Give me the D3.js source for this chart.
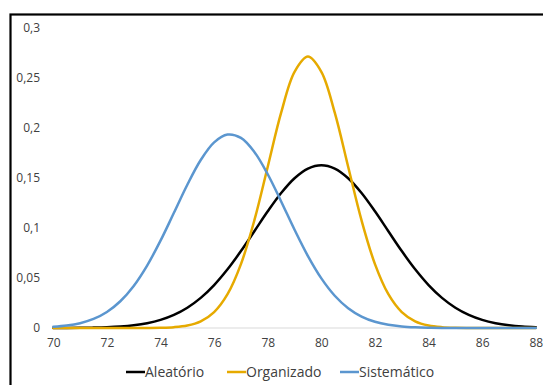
<!DOCTYPE html>
<html>
<head>
<meta charset="utf-8">
<script src="https://cdn.jsdelivr.net/npm/d3@7"></script>
<style>
  html, body { margin: 0; padding: 0; background: #fff; }
  svg { display: block; }
  text { font-family: "Open Sans", "Liberation Sans", sans-serif; fill: #404040; }
</style>
</head>
<body>
<script>
// x values (step 0.5)
const xValues = [70,70.5,71,71.5,72,72.5,73,73.5,74,74.5,75,75.5,76,76.5,77,77.5,78,78.5,79,79.5,80,80.5,81,81.5,82,82.5,83,83.5,84,84.5,85,85.5,86,86.5,87,87.5,88];

const seriesNames = ["Aleatório", "Organizado", "Sistemático"];

const aleatorio = [0.00004,0.00009,0.00019,0.00040,0.00079,0.00150,0.00275,0.00482,0.00811,0.01310,0.02029,0.03013,0.04295,0.05869,0.07692,0.09674,0.11667,0.13498,0.14979,0.15945,0.16280,0.15945,0.14979,0.13498,0.11667,0.09674,0.07692,0.05869,0.04295,0.03013,0.02029,0.01310,0.00811,0.00482,0.00275,0.00150,0.00079];

const organizado = [0,0,0,0,0,0.000003,0.000015,0.000065,0.000248,0.000835,0.002502,0.006695,0.015943,0.03382,0.06389,0.10756,0.16127,0.21533,0.25615,0.27140,0.25615,0.21533,0.16127,0.10756,0.06389,0.03382,0.015943,0.006695,0.002502,0.000835,0.000248,0.000065,0.000015,0.000003,0,0,0];

const sistematico = [0.001143,0.002416,0.004813,0.009038,0.016013,0.02673,0.04207,0.06243,0.08734,0.11521,0.14326,0.16796,0.18566,0.19347,0.19008,0.17607,0.15376,0.12658,0.09826,0.07190,0.04961,0.03227,0.01979,0.011446,0.006237,0.003206,0.001553,0.000709,0.000305,0.000124,0.000048,0.000017,0.000006,0,0,0,0];

const xTicks = [70,72,74,76,78,80,82,84,86,88];
const yTicks = [0,0.05,0.1,0.15,0.2,0.25,0.3];
const yTickLabels = ["0","0,05","0,1","0,15","0,2","0,25","0,3"];
const colors = ["#000000", "#E6AA00", "#5B96CF"];

const W = 543, H = 385;
const svg = d3.select("body").append("svg").attr("width", W).attr("height", H);

// outer frame (extends beyond right/bottom edges)
svg.append("rect")
  .attr("x", 10.5).attr("y", 14.5)
  .attr("width", W + 20).attr("height", H + 20)
  .attr("fill", "none").attr("stroke", "#000").attr("stroke-width", 2.2);

const x = d3.scaleLinear().domain([70, 88]).range([53.3, 535.8]);
const y = d3.scaleLinear().domain([0, 0.3]).range([328, 28]);

// baseline
svg.append("line")
  .attr("x1", x(70)).attr("x2", x(88))
  .attr("y1", y(0)).attr("y2", y(0))
  .attr("stroke", "#d9d9d9").attr("stroke-width", 1);

// x axis labels
const xAxis = d3.axisBottom(x).tickValues(xTicks).tickSize(0).tickPadding(10).tickFormat(d3.format("d"));
const gx = svg.append("g").attr("transform", `translate(0,${y(0)})`).call(xAxis);
gx.select(".domain").remove();
gx.selectAll("text").attr("font-size", 12).attr("font-family", "'Open Sans', sans-serif").attr("fill", "#404040");

// y axis labels
const yAxis = d3.axisLeft(y).tickValues(yTicks).tickSize(0).tickPadding(0)
  .tickFormat((d, i) => yTickLabels[i]);
const gy = svg.append("g").attr("transform", `translate(40,0)`).call(yAxis);
gy.select(".domain").remove();
gy.selectAll("text").attr("font-size", 12).attr("font-family", "'Open Sans', sans-serif").attr("fill", "#404040");

// lines
const allSeries = [aleatorio, organizado, sistematico];
const line = d3.line()
  .x((d, i) => x(xValues[i]))
  .y(d => y(d))
  .curve(d3.curveCatmullRom.alpha(0.5));

// draw order: black, gold, blue
allSeries.forEach((s, k) => {
  svg.append("path")
    .datum(s)
    .attr("d", line)
    .attr("fill", "none")
    .attr("stroke", colors[k])
    .attr("stroke-width", 2.5)
    .attr("stroke-linejoin", "round")
    .attr("stroke-linecap", "round");
});

// legend
const legendX = [126, 227, 340];
const legendY = 372;
seriesNames.forEach((name, k) => {
  const g = svg.append("g").attr("transform", `translate(${legendX[k]},${legendY})`);
  g.append("line").attr("x1", 0).attr("x2", 19).attr("y1", 0).attr("y2", 0)
    .attr("stroke", colors[k]).attr("stroke-width", 2.5);
  g.append("text").attr("x", 19).attr("y", 0).attr("dy", "0.35em")
    .attr("font-size", 14).attr("fill", "#404040").text(name);
});
</script>
</body>
</html>
